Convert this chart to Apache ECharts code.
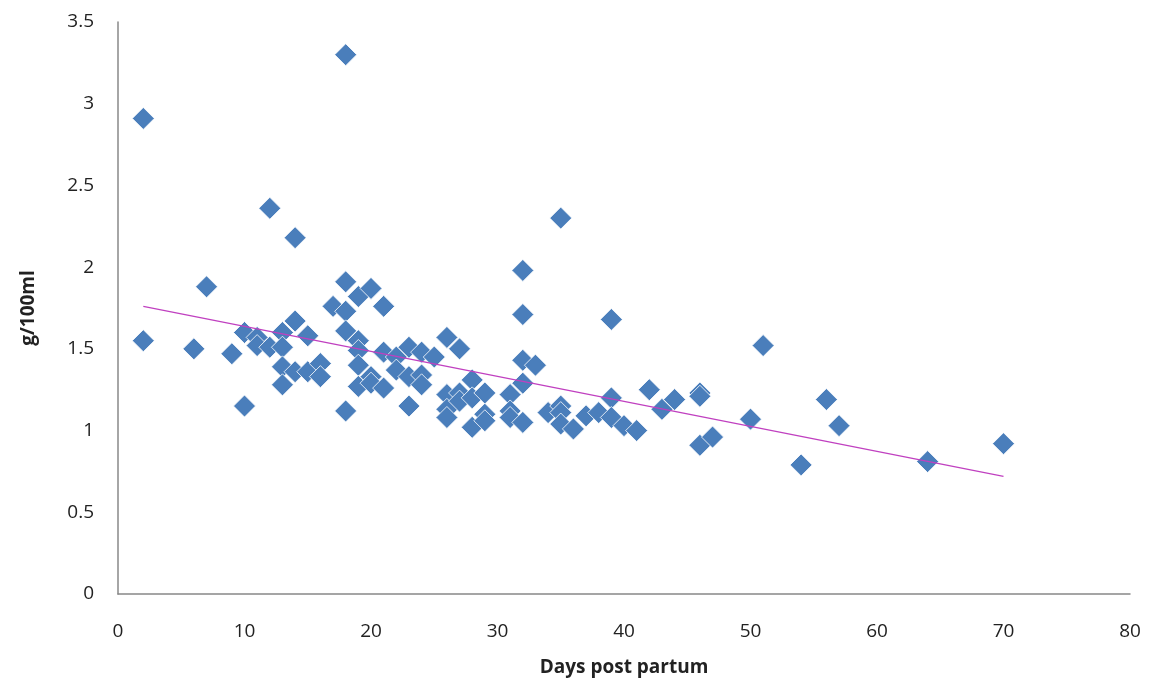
<!DOCTYPE html>
<html>
<head>
<meta charset="utf-8">
<script src="https://cdn.jsdelivr.net/npm/echarts@6/dist/echarts.min.js"></script>
<style>
html,body{margin:0;padding:0;background:#fff;}
#chart{width:1155px;height:691px;}
</style>
</head>
<body>
<div id="chart"></div>
<script>
// Days post partum (x) and concentration g/100ml (y)
const days = [
  2, 2, 6, 7, 9, 10, 10, 11, 11, 12, 12,
  13, 13, 13, 13, 14, 14, 14, 15, 15, 16, 16, 17,
  18, 18, 18, 18, 18, 19, 19, 19, 19, 19,
  20, 20, 20, 21, 21, 21, 22, 22, 23, 23, 23,
  24, 24, 24, 25, 26, 26, 26, 26, 27, 27, 27,
  28, 28, 28, 29, 29, 29, 31, 31, 31,
  32, 32, 32, 32, 32, 33, 34, 35, 35, 35, 35,
  36, 37, 38, 39, 39, 39, 40, 41, 42, 43, 44,
  46, 46, 46, 47, 50, 51, 54, 56, 57, 64, 70
];
const values = [
  2.91, 1.55, 1.50, 1.88, 1.47, 1.60, 1.15, 1.57, 1.52, 2.36, 1.51,
  1.60, 1.51, 1.39, 1.28, 2.18, 1.67, 1.36, 1.58, 1.36, 1.41, 1.33, 1.76,
  3.30, 1.91, 1.73, 1.61, 1.12, 1.82, 1.55, 1.49, 1.40, 1.27,
  1.87, 1.33, 1.29, 1.76, 1.48, 1.26, 1.45, 1.37, 1.51, 1.33, 1.15,
  1.48, 1.34, 1.28, 1.45, 1.57, 1.22, 1.13, 1.08, 1.50, 1.23, 1.18,
  1.31, 1.20, 1.02, 1.23, 1.10, 1.06, 1.22, 1.12, 1.08,
  1.98, 1.71, 1.43, 1.29, 1.05, 1.40, 1.11, 2.30, 1.15, 1.11, 1.04,
  1.01, 1.09, 1.11, 1.68, 1.20, 1.08, 1.03, 1.00, 1.25, 1.13, 1.19,
  1.23, 1.21, 0.91, 0.96, 1.07, 1.52, 0.79, 1.19, 1.03, 0.81, 0.92
];
// Linear trendline endpoints
const trendDays = [2, 70];
const trendValues = [1.76, 0.72];

const xTitle = 'Days post partum';
const yTitle = 'g/100ml';

const points = days.map((d, i) => [d, values[i]]);
const trend = trendDays.map((d, i) => [d, trendValues[i]]);

const chart = echarts.init(document.getElementById('chart'));
const font = 'Open Sans, Liberation Sans, sans-serif';
chart.setOption({
  animation: false,
  backgroundColor: '#ffffff',
  grid: {left: 118, right: 25, top: 22, bottom: 97},
  xAxis: {
    type: 'value', min: 0, max: 80, interval: 10,
    name: xTitle, nameLocation: 'middle', nameGap: 64,
    nameTextStyle: {fontFamily: font, fontSize: 19, fontWeight: 'bold', color: '#222'},
    axisLine: {show: true, lineStyle: {color: '#888', width: 1.5}},
    axisTick: {show: false},
    splitLine: {show: false},
    axisLabel: {fontFamily: font, fontSize: 19, color: '#222', margin: 28}
  },
  yAxis: {
    type: 'value', min: 0, max: 3.5, interval: 0.5,
    name: yTitle, nameLocation: 'middle', nameGap: 80, nameRotate: 90,
    nameTextStyle: {fontFamily: font, fontSize: 19, fontWeight: 'bold', color: '#222'},
    axisLine: {show: true, lineStyle: {color: '#888', width: 1.5}},
    axisTick: {show: false},
    splitLine: {show: false},
    axisLabel: {fontFamily: font, fontSize: 19, color: '#222', margin: 24}
  },
  series: [
    {
      type: 'scatter',
      data: points,
      symbol: 'diamond',
      symbolSize: 22,
      itemStyle: {color: '#4A7EBB', opacity: 1, borderColor: '#ffffff', borderWidth: 0.8},
      z: 2
    },
    {
      type: 'line',
      data: trend,
      symbol: 'none',
      lineStyle: {color: '#C040C0', width: 1.3},
      z: 3
    }
  ]
});
</script>
</body>
</html>
